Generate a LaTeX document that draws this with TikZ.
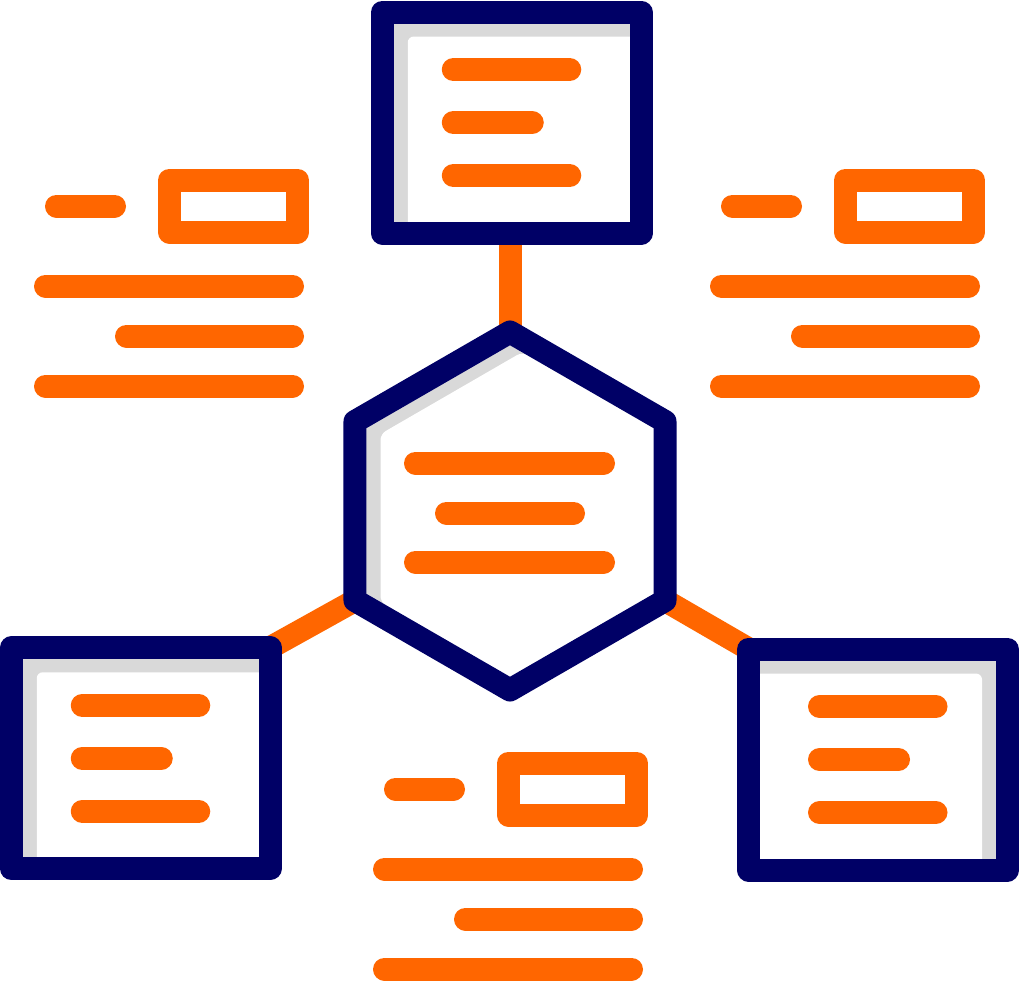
\documentclass[tikz,border=0pt]{standalone}
\usepackage{tikz}
\usetikzlibrary{shapes.geometric}
\usetikzlibrary{backgrounds}
\definecolor{navyline}{HTML}{000066}
\definecolor{orangeline}{HTML}{FF6600}
\definecolor{panegray}{HTML}{D9D9D9}
\tikzset{
  docbox/.style={draw=navyline, line width=23pt, line join=round, inner sep=0pt, outer sep=0pt, minimum width=258.5pt, minimum height=221pt},
  hexbox/.style={regular polygon, regular polygon sides=6, shape border rotate=30, draw=navyline, line width=23pt, line join=round, inner sep=0pt, outer sep=0pt, minimum size=358pt},
  bar/.style={draw=orangeline, line width=23pt, line cap=round, line join=round},
  link/.style={draw=orangeline, line width=23pt}
}
\begin{document}
\begin{tikzpicture}[x=1pt, y=-1pt]
      \useasboundingbox (0,0) rectangle (1020,980);

      \node[hexbox] (hex) at (510,511) {};
      \node[docbox] (topbox) at (511.75,122.5) {};
      \node[docbox] (leftbox) at (140.75,758.25) {};
      \node[docbox] (rightbox) at (878,759.5) {};

      \begin{pgfonlayer}{background}
        \draw[link] (hex.90) -- (hex.90 |- topbox.south);
        \draw[link] (hex.210) -- (leftbox.north east);
        \draw[link] (hex.330) -- (rightbox.north west);

        \fill[panegray] (hex.corner 1) -- (hex.corner 2) -- (hex.corner 3) -- (hex.corner 4) -- (hex.corner 5) -- (hex.corner 6) -- cycle;
        \fill[white, rounded corners=6pt, shift={(hex.center)}] (12,-158.8) -- (155,-89.5) -- (155,89.5) -- (0,179) -- (-129.5,90.9) -- (-129.5,-77) -- cycle;
        \foreach \b/\s in {topbox/1, leftbox/1, rightbox/-1} {
          \fill[panegray] (\b.north west) rectangle (\b.south east);
          \fill[white, rounded corners=6pt, shift={(\b.center)}, xscale=\s] (-104,-86) rectangle (129.25,110.5);
        }
      \end{pgfonlayer}

      \foreach \b in {topbox, leftbox, rightbox}
        \draw[bar, shift={(\b.center)}] (-58.5,-53) -- (58,-53) (-58.5,0) -- (20.5,0) (-58.5,53) -- (58,53);
      \draw[bar, shift={(hex.center)}] (-94.5,-48) -- (93.5,-48) (-63.5,2) -- (63.5,2) (-94.5,51) -- (93.5,51);

      \foreach \dx/\dy in {0/0, 676/0, 339/583} {
        \begin{scope}[shift={(\dx,\dy)}]
          \draw[bar] (56.5,206) -- (114.5,206);
          \draw[bar] (169.5,180) rectangle (297.5,232);
          \draw[bar] (45.5,286) -- (292.5,286) (126.5,336) -- (292.5,336) (45.5,386) -- (292.5,386);
        \end{scope}
      }
    \end{tikzpicture}
\end{document}
